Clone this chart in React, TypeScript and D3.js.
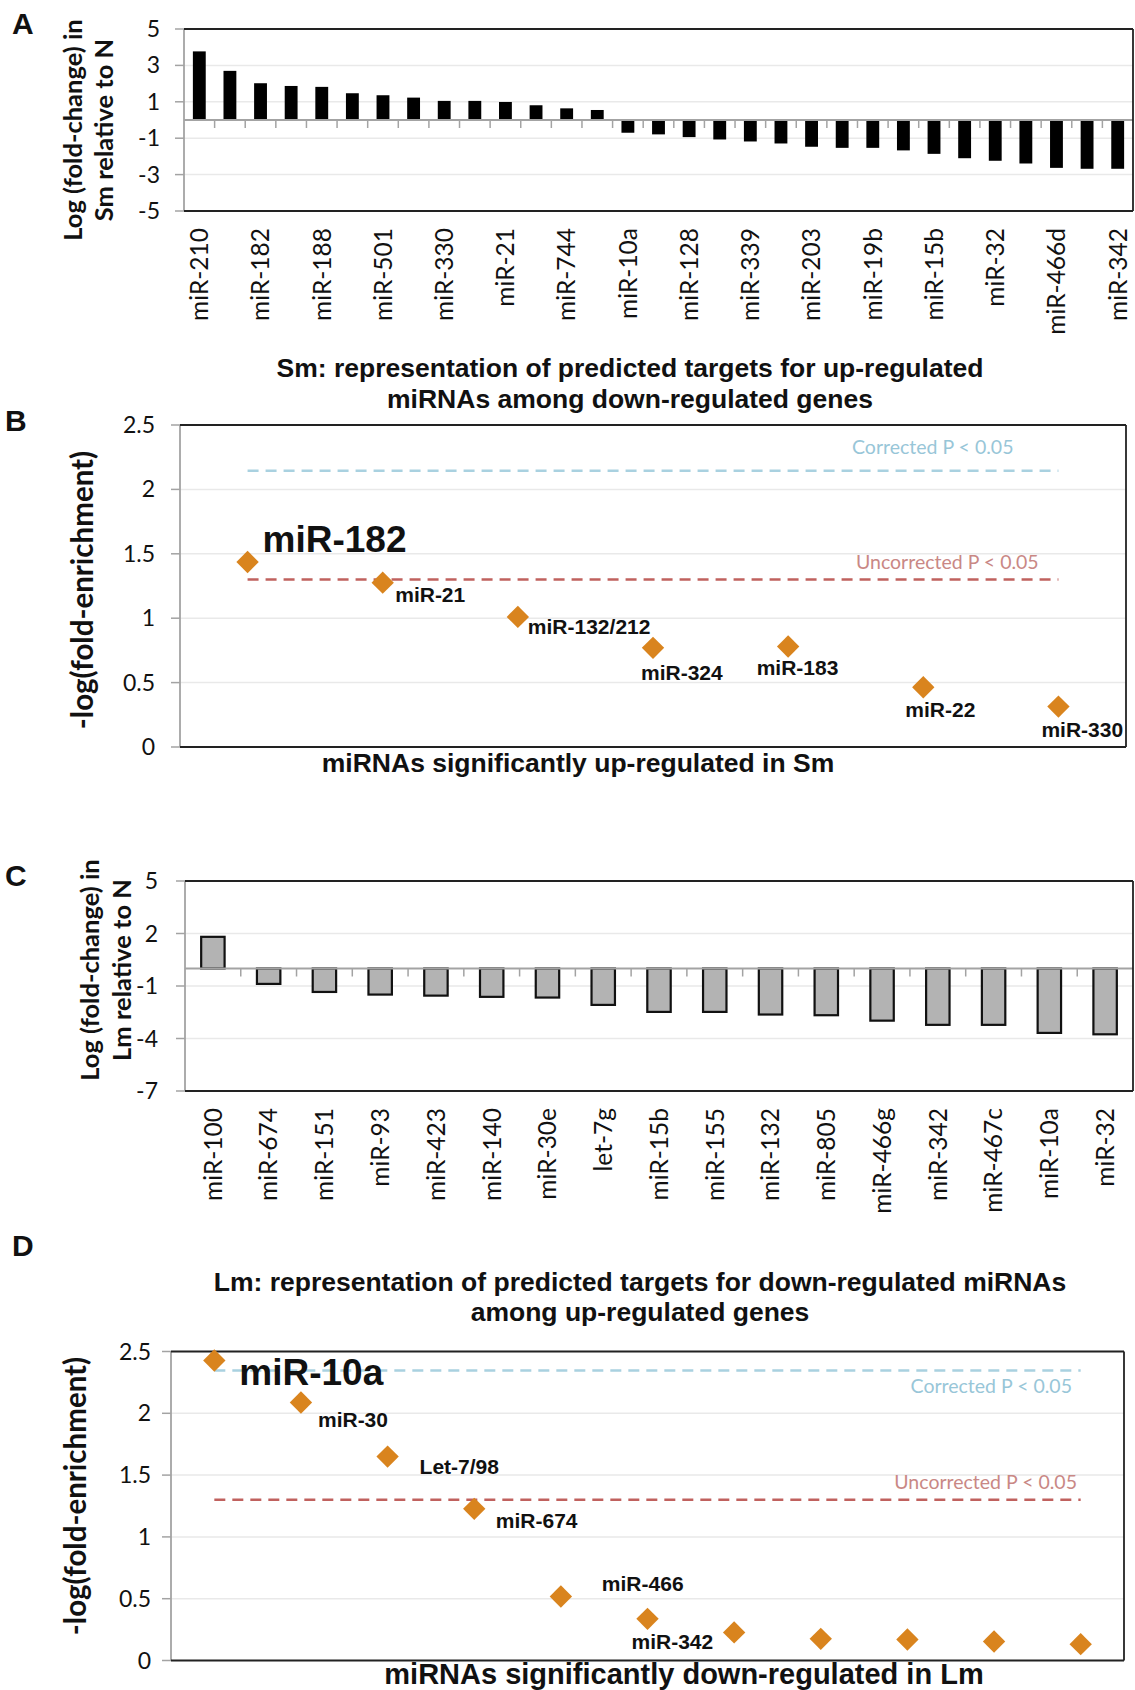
import React from 'react';
import * as d3 from 'd3';

// ---------- DATA ----------
// Panel A: Sm vs N (only every other category label is printed in the figure)
const smCategories = [
  'miR-210', '', 'miR-182', '', 'miR-188', '', 'miR-501', '', 'miR-330', '', 'miR-21', '',
  'miR-744', '', 'miR-10a', '', 'miR-128', '', 'miR-339', '', 'miR-203', '', 'miR-19b', '',
  'miR-15b', '', 'miR-32', '', 'miR-466d', '', 'miR-342',
];
const smValues = [
  3.77, 2.7, 2.02, 1.87, 1.82, 1.47, 1.36, 1.23, 1.05, 1.05, 0.99, 0.81, 0.64, 0.55,
  -0.7, -0.79, -0.94, -1.07, -1.18, -1.29, -1.47, -1.53, -1.53, -1.67, -1.86, -2.1, -2.24,
  -2.39, -2.63, -2.68, -2.68,
];
const smTicks = [-5, -3, -1, 1, 3, 5];

// Panel B: Sm enrichment
const smEnrichLabels = ['miR-182', 'miR-21', 'miR-132/212', 'miR-324', 'miR-183', 'miR-22', 'miR-330'];
const smEnrichValues = [1.436, 1.276, 1.01, 0.77, 0.78, 0.464, 0.314];
const smCorrected = 2.145;
const smUncorrected = 1.3;

// Panel C: Lm vs N
const lmCategories = [
  'miR-100', 'miR-674', 'miR-151', 'miR-93', 'miR-423', 'miR-140', 'miR-30e', 'let-7g',
  'miR-15b', 'miR-155', 'miR-132', 'miR-805', 'miR-466g', 'miR-342', 'miR-467c', 'miR-10a', 'miR-32',
];
const lmValues = [
  1.81, -0.88, -1.34, -1.49, -1.55, -1.62, -1.66, -2.08, -2.48, -2.48, -2.63, -2.67, -2.98,
  -3.22, -3.22, -3.68, -3.76,
];
const lmTicks = [-7, -4, -1, 2, 5];

// Panel D: Lm enrichment
const lmEnrichLabels = ['miR-10a', 'miR-30', 'Let-7/98', 'miR-674', 'miR-466', 'miR-342', '', '', '', '', ''];
const lmEnrichValues = [2.427, 2.087, 1.65, 1.227, 0.518, 0.337, 0.227, 0.175, 0.17, 0.154, 0.132];
const lmCorrected = 2.346;
const lmUncorrected = 1.3;

const enrichTicks = [0, 0.5, 1, 1.5, 2, 2.5];
const thresholdLabels = ['Corrected P < 0.05', 'Uncorrected P < 0.05'];

// ---------- STYLE ----------
const CAL = "Lato, 'Open Sans', sans-serif";
const ARIAL = "'Liberation Sans', Arial, sans-serif";
const GRID = '#e9e9e9';
const AXIS = '#a3a3a3';
const BORDER = '#222';
const ORANGE = '#D9841E';
const BLUE = '#A9D1E0';
const RED = '#C0615E';
const BLUE_TXT = '#98C6D8';
const RED_TXT = '#C98885';

type Box = { x0: number; x1: number; y0: number; y1: number };

function Frame({ box }: { box: Box }) {
  const { x0, x1, y0, y1 } = box;
  return (
    <g>
      <line x1={x0} x2={x1} y1={y0} y2={y0} stroke={BORDER} strokeWidth={1.8} />
      <line x1={x1} x2={x1} y1={y0} y2={y1} stroke={BORDER} strokeWidth={1.8} />
      <line x1={x0} x2={x1} y1={y1} y2={y1} stroke={BORDER} strokeWidth={1.8} />
    </g>
  );
}

function YAxis({ box, y, ticks, gap, fmt }: { box: Box; y: any; ticks: number[]; gap: number; fmt?: (v: number) => string }) {
  const { x0, x1, y0, y1 } = box;
  return (
    <g>
      {ticks.map((t) => (
        <line key={'g' + t} x1={x0} x2={x1} y1={y(t)} y2={y(t)} stroke={GRID} strokeWidth={1.5} />
      ))}
      <line x1={x0} x2={x0} y1={y0} y2={y1} stroke={AXIS} strokeWidth={1.8} />
      {ticks.map((t) => (
        <g key={'t' + t}>
          <line x1={x0 - 9} x2={x0} y1={y(t)} y2={y(t)} stroke={AXIS} strokeWidth={1.5} />
          <text x={x0 - gap} y={y(t)} dy="0.35em" textAnchor="end" fontFamily={CAL} fontSize={23} fill="#111">
            {fmt ? fmt(t) : String(t)}
          </text>
        </g>
      ))}
    </g>
  );
}

function BarPanel(props: {
  box: Box;
  categories: string[];
  values: number[];
  ticks: number[];
  fill: string;
  stroke?: string;
  gap: number;
  titleLines: string[];
  titleX: number[];
  titleY: number;
}) {
  const { box, categories, values, ticks, fill, stroke, gap, titleLines, titleX, titleY } = props;
  const idx = categories.map((_, i) => String(i));
  const x = d3.scaleBand().domain(idx).range([box.x0, box.x1]).paddingInner(0.58).paddingOuter(0.29);
  const y = d3.scaleLinear().domain([d3.min(ticks)!, d3.max(ticks)!]).range([box.y1, box.y0]);
  const pad = (x.step() - x.bandwidth()) / 2;
  return (
    <g>
      <YAxis box={box} y={y} ticks={ticks} gap={gap} />
      {values.map((v, i) => {
        const top = Math.min(y(v), y(0));
        const h = Math.abs(y(v) - y(0));
        return (
          <rect
            key={i}
            x={x(String(i))!}
            y={top}
            width={x.bandwidth()}
            height={h}
            fill={fill}
            stroke={stroke || 'none'}
            strokeWidth={stroke ? 2.2 : 0}
          />
        );
      })}
      <line x1={box.x0} x2={box.x1} y1={y(0)} y2={y(0)} stroke={AXIS} strokeWidth={2} />
      {idx.slice(1).map((k) => {
        const bx = x(k)! - pad;
        return <line key={'b' + k} x1={bx} x2={bx} y1={y(0)} y2={y(0) + 8} stroke={AXIS} strokeWidth={1.5} />;
      })}
      <Frame box={box} />
      {categories.map((c, i) =>
        c ? (
          <text
            key={'l' + i}
            transform={`translate(${x(String(i))! + x.bandwidth() / 2},${box.y1 + 17}) rotate(-90)`}
            dy="0.36em"
            textAnchor="end"
            fontFamily={CAL}
            fontSize={24.5}
            fill="#111"
          >
            {c}
          </text>
        ) : null
      )}
      {titleLines.map((t, i) => (
        <text
          key={'yt' + i}
          transform={`translate(${titleX[i]},${titleY}) rotate(-90)`}
          dy="0.36em"
          textAnchor="middle"
          fontFamily={CAL}
          fontWeight="bold"
          fontSize={25.5}
          fill="#111"
        >
          {t}
        </text>
      ))}
    </g>
  );
}

type LabelPos = { dx: number; dy: number; size: number };

function ScatterPanel(props: {
  box: Box;
  labels: string[];
  values: number[];
  corrected: number;
  uncorrected: number;
  gap: number;
  labelPos: LabelPos[];
  threshText: { x: number; dy: number; anchor: string }[];
  yTitleX: number;
  yTitleY: number;
}) {
  const { box, labels, values, corrected, uncorrected, gap, labelPos, threshText, yTitleX, yTitleY } = props;
  const idx = values.map((_, i) => String(i));
  const x = d3.scaleBand().domain(idx).range([box.x0, box.x1]);
  const y = d3.scaleLinear().domain([0, 2.5]).range([box.y1, box.y0]);
  const cx = (i: number) => x(String(i))! + x.bandwidth() / 2;
  const xa = cx(0);
  const xb = cx(values.length - 1);
  const diamond = d3.symbol().type(d3.symbolSquare).size(250)()!;
  const fmt = (v: number) => String(v);
  return (
    <g>
      <YAxis box={box} y={y} ticks={enrichTicks} gap={gap} fmt={fmt} />
      <line x1={xa} x2={xb} y1={y(corrected)} y2={y(corrected)} stroke={BLUE} strokeWidth={2.6} strokeDasharray="11 7" />
      <line x1={xa} x2={xb} y1={y(uncorrected)} y2={y(uncorrected)} stroke={RED} strokeWidth={2.6} strokeDasharray="11 7" />
      <text x={threshText[0].x} y={y(corrected) + threshText[0].dy} textAnchor={threshText[0].anchor as any} fontFamily={CAL} fontSize={19.5} fill={BLUE_TXT}>
        {thresholdLabels[0]}
      </text>
      <text x={threshText[1].x} y={y(uncorrected) + threshText[1].dy} textAnchor={threshText[1].anchor as any} fontFamily={CAL} fontSize={19.5} fill={RED_TXT}>
        {thresholdLabels[1]}
      </text>
      <Frame box={box} />
      {values.map((v, i) => (
        <path key={'p' + i} d={diamond} transform={`translate(${cx(i)},${y(v)}) rotate(45)`} fill={ORANGE} />
      ))}
      {labels.map((l, i) =>
        l ? (
          <text
            key={'lb' + i}
            x={cx(i) + labelPos[i].dx}
            y={y(values[i]) + labelPos[i].dy}
            fontFamily={ARIAL}
            fontWeight="bold"
            fontSize={labelPos[i].size}
            fill="#111"
          >
            {l}
          </text>
        ) : null
      )}
      <text
        transform={`translate(${yTitleX},${yTitleY}) rotate(-90)`}
        dy="0.36em"
        textAnchor="middle"
        fontFamily={CAL}
        fontWeight="bold"
        fontSize={29.5}
        fill="#111"
      >
        -log(fold-enrichment)
      </text>
    </g>
  );
}

const boxA: Box = { x0: 184, x1: 1133, y0: 29, y1: 211 };
const boxB: Box = { x0: 180, x1: 1126, y0: 425, y1: 747 };
const boxC: Box = { x0: 185, x1: 1133, y0: 881, y1: 1091 };
const boxD: Box = { x0: 171, x1: 1124, y0: 1351.5, y1: 1660.5 };

const posB: LabelPos[] = [
  { dx: 15, dy: -10, size: 37 },
  { dx: 12.5, dy: 19.5, size: 21 },
  { dx: 10, dy: 17, size: 21 },
  { dx: -12, dy: 32, size: 21 },
  { dx: -31.5, dy: 28, size: 21 },
  { dx: -18, dy: 29.6, size: 21 },
  { dx: -17, dy: 30.4, size: 21 },
];
const posD: LabelPos[] = [
  { dx: 25, dy: 24, size: 37 },
  { dx: 17, dy: 24, size: 21 },
  { dx: 32, dy: 17, size: 21 },
  { dx: 21.6, dy: 19, size: 21 },
  { dx: 41, dy: -5, size: 21 },
  { dx: -16, dy: 30, size: 21 },
  { dx: 0, dy: 0, size: 21 },
  { dx: 0, dy: 0, size: 21 },
  { dx: 0, dy: 0, size: 21 },
  { dx: 0, dy: 0, size: 21 },
  { dx: 0, dy: 0, size: 21 },
];

function Letter({ x, y, t }: { x: number; y: number; t: string }) {
  return (
    <text x={x} y={y} fontFamily={ARIAL} fontWeight="bold" fontSize={30} fill="#111">
      {t}
    </text>
  );
}

function Title({ lines, x, ys, size }: { lines: string[]; x: number; ys: number[]; size: number }) {
  return (
    <g>
      {lines.map((l, i) => (
        <text key={i} x={x} y={ys[i]} textAnchor="middle" fontFamily={ARIAL} fontWeight="bold" fontSize={size} fill="#111">
          {l}
        </text>
      ))}
    </g>
  );
}

export default function App() {
  return (
    <svg
      width={1135}
      height={1690}
      viewBox="0 0 1135 1690"
      style={{ position: 'absolute', left: 0, top: 0, background: '#fff' }}
    >
      <rect width={1135} height={1690} fill="#fff" />
      {/* A */}
      <Letter x={12} y={34} t="A" />
      <BarPanel
        box={boxA}
        categories={smCategories}
        values={smValues}
        ticks={smTicks}
        fill="#000"
        gap={24}
        titleLines={['Log (fold-change) in', 'Sm relative to N']}
        titleX={[73, 104]}
        titleY={130}
      />
      {/* B */}
      <Title
        lines={['Sm: representation of predicted targets for up-regulated', 'miRNAs among down-regulated genes']}
        x={630}
        ys={[377, 408]}
        size={26.5}
      />
      <Letter x={5} y={431} t="B" />
      <ScatterPanel
        box={boxB}
        labels={smEnrichLabels}
        values={smEnrichValues}
        corrected={smCorrected}
        uncorrected={smUncorrected}
        gap={25}
        labelPos={posB}
        threshText={[
          { x: 852, dy: -17, anchor: 'start' },
          { x: 856, dy: -11, anchor: 'start' },
        ]}
        yTitleX={82}
        yTitleY={590}
      />
      <text x={578} y={772} textAnchor="middle" fontFamily={ARIAL} fontWeight="bold" fontSize={26.5} fill="#111">
        miRNAs significantly up-regulated in Sm
      </text>
      {/* C */}
      <Letter x={5} y={886} t="C" />
      <BarPanel
        box={boxC}
        categories={lmCategories}
        values={lmValues}
        ticks={lmTicks}
        fill="#b3b3b3"
        stroke="#111"
        gap={27}
        titleLines={['Log (fold-change) in', 'Lm relative to N']}
        titleX={[90, 122]}
        titleY={970}
      />
      {/* D */}
      <Letter x={12} y={1256} t="D" />
      <Title
        lines={['Lm: representation of predicted targets for down-regulated miRNAs', 'among up-regulated genes']}
        x={640}
        ys={[1291, 1321]}
        size={26.5}
      />
      <ScatterPanel
        box={boxD}
        labels={lmEnrichLabels}
        values={lmEnrichValues}
        corrected={lmCorrected}
        uncorrected={lmUncorrected}
        gap={20}
        labelPos={posD}
        threshText={[
          { x: 1072, dy: 22, anchor: 'end' },
          { x: 1077, dy: -11, anchor: 'end' },
        ]}
        yTitleX={75}
        yTitleY={1496}
      />
      <text x={684} y={1684} textAnchor="middle" fontFamily={ARIAL} fontWeight="bold" fontSize={29} fill="#111">
        miRNAs significantly down-regulated in Lm
      </text>
    </svg>
  );
}
